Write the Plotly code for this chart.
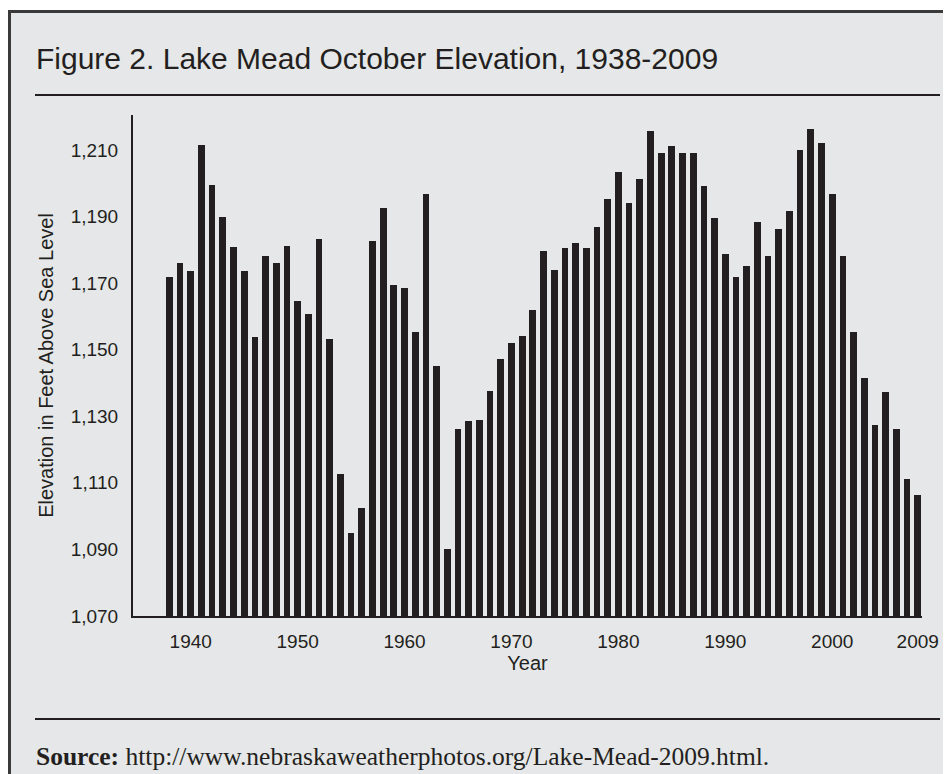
import plotly.graph_objects as go

years = list(range(1938, 2009))
elevation = [
    1171.9, 1176.1, 1173.7, 1211.6, 1199.4, 1189.8, 1180.9, 1173.7, 1153.7, 1178.2,
    1176.1, 1181.2, 1164.7, 1160.7, 1183.3, 1153.1, 1112.7, 1094.8, 1102.3, 1182.6,
    1192.5, 1169.5, 1168.6, 1155.2, 1196.8, 1145.0, 1090.0, 1126.2, 1128.6, 1128.9,
    1137.6, 1147.1, 1151.9, 1154.2, 1162.0, 1179.7, 1174.0, 1180.6, 1182.1, 1180.6,
    1186.9, 1195.3, 1203.3, 1194.0, 1201.2, 1215.6, 1209.0, 1211.1, 1209.0, 1209.0,
    1199.1, 1189.6, 1178.8, 1171.9, 1175.0, 1188.4, 1178.2, 1186.3, 1191.6, 1209.9,
    1216.2, 1212.2, 1196.8, 1178.2, 1155.2, 1141.4, 1127.4, 1137.3, 1126.2, 1111.2,
    1106.5,
]
x_tick_years = [1940, 1950, 1960, 1970, 1980, 1990, 2000, 2008]
x_tick_labels = ["1940", "1950", "1960", "1970", "1980", "1990", "2000", "2009"]
y_ticks = [1070, 1090, 1110, 1130, 1150, 1170, 1190, 1210]
y_tick_labels = ["1,070", "1,090", "1,110", "1,130", "1,150", "1,170", "1,190", "1,210"]

INK = "#231f20"
BG = "#e6e7e8"
SANS = "Liberation Sans, Arial, Helvetica, sans-serif"
SERIF = "Liberation Serif, Times New Roman, serif"

W, H = 951, 774
OFF = 8  # page body margin
L, R, T, B = 133 - OFF, 922 - OFF, 115 - OFF, 616 - OFF
PW, PH = R - L, B - T


def px(x):
    # page x -> paper
    return (x - OFF - L) / PW


def py(y):
    # page y -> paper
    return (B - (y - OFF)) / PH


fig = go.Figure(
    go.Bar(x=years, y=[v - 1070 for v in elevation], base=1070, width=0.63,
           marker=dict(color=INK, line=dict(width=0)), hoverinfo="skip")
)

shapes = [
    dict(type="rect", xref="paper", yref="paper", x0=px(9.5), x1=px(W + 40), y0=py(H + 40), y1=py(11.5),
         fillcolor=BG, line=dict(color="#3a3a3a", width=3), layer="below"),
    dict(type="line", xref="paper", yref="paper", x0=px(35), x1=px(940), y0=py(95), y1=py(95),
         line=dict(color=INK, width=2)),
    dict(type="line", xref="paper", yref="paper", x0=px(35), x1=px(940), y0=py(719), y1=py(719),
         line=dict(color=INK, width=2)),
]

annotations = [
    dict(text="Figure 2. Lake Mead October Elevation, 1938-2009", xref="paper", yref="paper",
         x=px(34), y=py(58), xanchor="left", yanchor="middle", showarrow=False,
         font=dict(family=SANS, size=30, color=INK)),
    dict(text="<b>Source:</b> http://www.nebraskaweatherphotos.org/Lake-Mead-2009.html.",
         xref="paper", yref="paper", x=px(34), y=py(756), xanchor="left", yanchor="middle",
         showarrow=False, font=dict(family=SERIF, size=25.5, color=INK)),
]

fig.update_layout(
    width=W, height=H,
    margin=dict(l=L, r=W - R, t=T, b=H - B, pad=0),
    paper_bgcolor="white", plot_bgcolor="rgba(0,0,0,0)",
    showlegend=False, bargap=0,
    shapes=shapes, annotations=annotations,
    font=dict(family=SANS, color=INK),
)
fig.update_xaxes(
    range=[1934.6, 2008.4], tickvals=x_tick_years, ticktext=x_tick_labels,
    showline=True, linecolor=INK, linewidth=2, showgrid=False, zeroline=False, ticks="",
    ticklabelstandoff=7,
    tickfont=dict(family=SANS, size=19, color=INK),
    title=dict(text="Year", font=dict(family=SANS, size=20, color=INK), standoff=3),
)
fig.update_yaxes(
    range=[1070, 1220.5], tickvals=y_ticks, ticktext=y_tick_labels,
    showline=True, linecolor=INK, linewidth=2, showgrid=False, zeroline=False, ticks="",
    ticklabelstandoff=9,
    tickfont=dict(family=SANS, size=19, color=INK),
    title=dict(text="Elevation in Feet Above Sea Level", font=dict(family=SANS, size=20, color=INK),
               standoff=12),
)

fig.write_html("out.html")
